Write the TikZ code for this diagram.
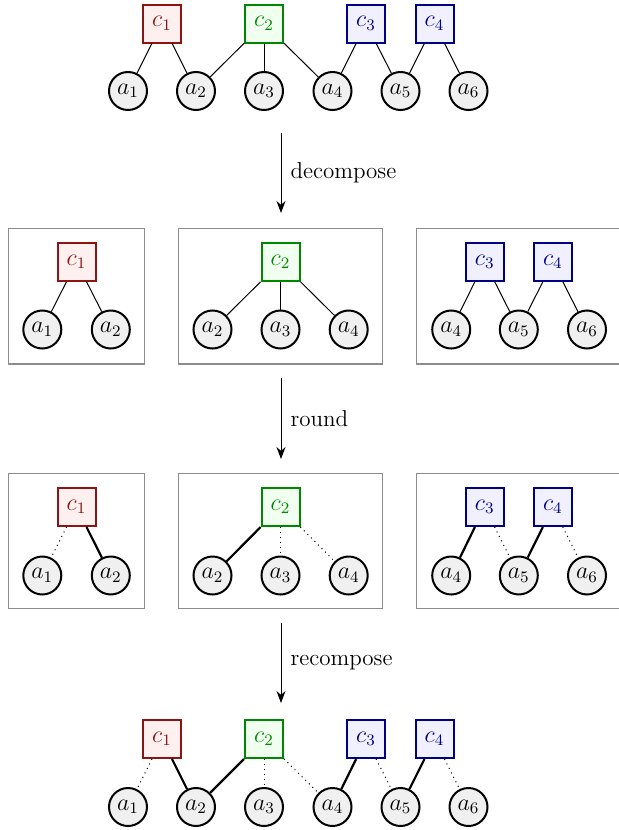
\documentclass[tikz,border=0pt]{standalone}
\usetikzlibrary{arrows.meta}
\definecolor{cR}{RGB}{140,20,20}
\definecolor{cG}{RGB}{0,135,0}
\definecolor{cB}{RGB}{0,0,135}
\definecolor{fR}{RGB}{255,240,240}
\definecolor{fG}{RGB}{240,255,240}
\definecolor{fB}{RGB}{240,240,255}
\begin{document}
\begin{tikzpicture}[x=0.5pt,y=-0.5pt,
  var/.style={circle, draw=black, line width=1pt, fill=gray!12, minimum size=19pt, inner sep=0pt, font=\fontsize{12}{14}\selectfont},
  cls/.style={rectangle, draw, line width=1pt, minimum size=19pt, inner sep=0pt, font=\fontsize{12}{14}\selectfont},
  cred/.style={cls, draw=cR, fill=fR, text=cR},
  cgreen/.style={cls, draw=cG, fill=fG, text=cG},
  cblue/.style={cls, draw=cB, fill=fB, text=cB},
  edge/.style={line width=0.5pt},
  sel/.style={line width=1.1pt},
  unsel/.style={line width=0.5pt, dotted},
  panel/.style={draw=gray!90, line width=0.7pt},
  flow/.style={-{Stealth[length=6pt,width=4.5pt]}, line width=0.5pt},
  lbl/.style={right, inner sep=0pt, xshift=4.5pt, font=\fontsize{11.5}{14}\selectfont}
]
\useasboundingbox (0,0) rectangle (618,830);

% ---------- top row ----------
\node[var] (ta1) at (128,91) {$a_1$};
\node[var] (ta2) at (196,91) {$a_2$};
\node[var] (ta3) at (264,91) {$a_3$};
\node[var] (ta4) at (332.5,91) {$a_4$};
\node[var] (ta5) at (400.5,91) {$a_5$};
\node[var] (ta6) at (468.5,91) {$a_6$};
\node[cred]   (tc1) at (162,23.5) {$c_1$};
\node[cgreen] (tc2) at (264,23.5) {$c_2$};
\node[cblue]  (tc3) at (366,23.5) {$c_3$};
\node[cblue]  (tc4) at (434.5,23.5) {$c_4$};
\draw[edge] (tc1) -- (ta1); \draw[edge] (tc1) -- (ta2);
\draw[edge] (tc2) -- (ta2); \draw[edge] (tc2) -- (ta3); \draw[edge] (tc2) -- (ta4);
\draw[edge] (tc3) -- (ta4); \draw[edge] (tc3) -- (ta5);
\draw[edge] (tc4) -- (ta5); \draw[edge] (tc4) -- (ta6);

% ---------- arrow 1 ----------
\coordinate (s1) at (281,133);
\coordinate (e1) at (281,213);
\draw[flow] (s1) -- node[lbl] {decompose} (e1);

% ---------- decomposed row ----------
\draw[panel] (8.3,228.3) rectangle (144.5,364);
\draw[panel] (178.5,228.3) rectangle (382.7,364);
\draw[panel] (416.3,228.3) rectangle (622,364);

\node[var] (da1) at (42.3,329.5) {$a_1$};
\node[var] (da2) at (110.8,329.5) {$a_2$};
\node[cred] (dc1) at (76.5,262) {$c_1$};
\draw[edge] (dc1) -- (da1); \draw[edge] (dc1) -- (da2);

\node[var] (db2) at (212.5,329.5) {$a_2$};
\node[var] (db3) at (280.5,329.5) {$a_3$};
\node[var] (db4) at (348.7,329.5) {$a_4$};
\node[cgreen] (dc2) at (280.5,262) {$c_2$};
\draw[edge] (dc2) -- (db2); \draw[edge] (dc2) -- (db3); \draw[edge] (dc2) -- (db4);

\node[var] (dd4) at (451.2,329.5) {$a_4$};
\node[var] (dd5) at (518.8,329.5) {$a_5$};
\node[var] (dd6) at (587,329.5) {$a_6$};
\node[cblue] (dc3) at (484.7,262) {$c_3$};
\node[cblue] (dc4) at (552.8,262) {$c_4$};
\draw[edge] (dc3) -- (dd4); \draw[edge] (dc3) -- (dd5);
\draw[edge] (dc4) -- (dd5); \draw[edge] (dc4) -- (dd6);

% ---------- arrow 2 ----------
\coordinate (s2) at (281,378);
\coordinate (e2) at (281,459);
\draw[flow] (s2) -- node[lbl] {round} (e2);

% ---------- rounded row ----------
\draw[panel] (8.3,473.3) rectangle (144.5,608.3);
\draw[panel] (178.5,473.3) rectangle (382.7,608.3);
\draw[panel] (416.3,473.3) rectangle (622,608.3);

\node[var] (ra1) at (42.3,575.5) {$a_1$};
\node[var] (ra2) at (110.8,575.5) {$a_2$};
\node[cred] (rc1) at (76.5,507) {$c_1$};
\draw[unsel] (rc1) -- (ra1); \draw[sel] (rc1) -- (ra2);

\node[var] (rb2) at (212.5,575.5) {$a_2$};
\node[var] (rb3) at (280.5,575.5) {$a_3$};
\node[var] (rb4) at (348.7,575.5) {$a_4$};
\node[cgreen] (rc2) at (280.5,507) {$c_2$};
\draw[sel] (rc2) -- (rb2); \draw[unsel] (rc2) -- (rb3); \draw[unsel] (rc2) -- (rb4);

\node[var] (rd4) at (451.2,575.5) {$a_4$};
\node[var] (rd5) at (518.8,575.5) {$a_5$};
\node[var] (rd6) at (587,575.5) {$a_6$};
\node[cblue] (rc3) at (484.7,507) {$c_3$};
\node[cblue] (rc4) at (552.8,507) {$c_4$};
\draw[sel] (rc3) -- (rd4); \draw[unsel] (rc3) -- (rd5);
\draw[sel] (rc4) -- (rd5); \draw[unsel] (rc4) -- (rd6);

% ---------- arrow 3 ----------
\coordinate (s3) at (281,623);
\coordinate (e3) at (281,703);
\draw[flow] (s3) -- node[lbl] {recompose} (e3);

% ---------- bottom row ----------
\node[var] (ba1) at (128,807) {$a_1$};
\node[var] (ba2) at (196,807) {$a_2$};
\node[var] (ba3) at (264,807) {$a_3$};
\node[var] (ba4) at (332.5,807) {$a_4$};
\node[var] (ba5) at (400.5,807) {$a_5$};
\node[var] (ba6) at (468.5,807) {$a_6$};
\node[cred]   (bc1) at (162,739) {$c_1$};
\node[cgreen] (bc2) at (264,739) {$c_2$};
\node[cblue]  (bc3) at (366,739) {$c_3$};
\node[cblue]  (bc4) at (434.5,739) {$c_4$};
\draw[unsel] (bc1) -- (ba1); \draw[sel] (bc1) -- (ba2);
\draw[sel] (bc2) -- (ba2); \draw[unsel] (bc2) -- (ba3); \draw[unsel] (bc2) -- (ba4);
\draw[sel] (bc3) -- (ba4); \draw[unsel] (bc3) -- (ba5);
\draw[sel] (bc4) -- (ba5); \draw[unsel] (bc4) -- (ba6);
\end{tikzpicture}
\end{document}
